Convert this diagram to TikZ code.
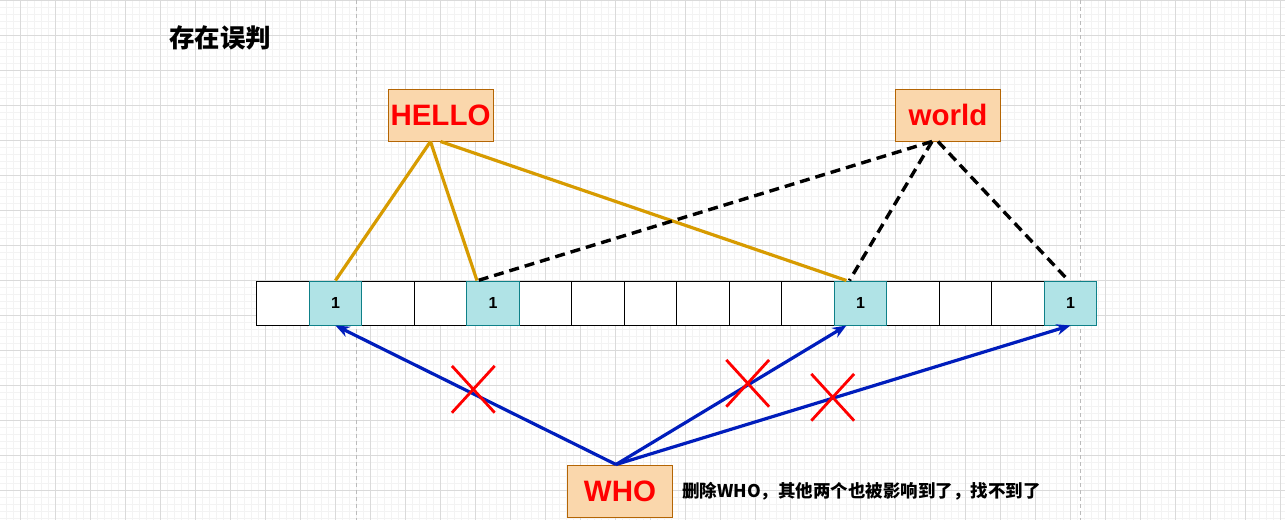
\documentclass[tikz,border=0pt]{standalone}
\usepackage{fontspec}
\setmainfont{Liberation Sans}
\newfontfamily\cjk{Noto Sans CJK SC}
\usetikzlibrary{positioning, arrows.meta, shapes.misc}

\definecolor{boxfill}{HTML}{FAD7AC}
\definecolor{boxline}{HTML}{B46504}
\definecolor{cellfill}{HTML}{B0E3E6}
\definecolor{cellline}{HTML}{0E8088}
\definecolor{hashline}{HTML}{D79B00}
\definecolor{probe}{HTML}{001DBC}
\definecolor{minorgrid}{HTML}{F3F3F3}
\definecolor{majorgrid}{HTML}{DADADA}
\definecolor{guidegray}{HTML}{BBBBBB}

\tikzset{
  minorline/.style={draw=minorgrid, line width=0.8pt},
  majorline/.style={draw=majorgrid, line width=1pt},
  guide/.style={draw=guidegray, line width=1pt, dash pattern=on 4pt off 3pt},
  wordbox/.style={draw=boxline, fill=boxfill, text=red, line width=1pt,
    font=\fontsize{29.5}{34}\selectfont\bfseries,
    minimum width=105pt, minimum height=52pt, inner sep=0pt},
  cell/.style={draw=black, fill=white, line width=1pt,
    minimum width=52.5pt, minimum height=44pt, inner sep=0pt},
  setcell/.style={cell, draw=cellline, fill=cellfill,
    font=\fontsize{16}{18}\selectfont\bfseries},
  helloline/.style={draw=hashline, line width=3.2pt},
  worldline/.style={draw=black, line width=3.4pt, dash pattern=on 10pt off 6pt},
  whoarrow/.style={draw=probe, line width=3.2pt, -{Stealth[length=14pt,width=11pt]}},
  xmark/.style={cross out, draw=red, line width=2.8pt,
    minimum width=40pt, minimum height=44pt, inner sep=0pt}
}

\begin{document}
\begin{tikzpicture}[x=1pt,y=-1pt]
  \useasboundingbox (0,0) rectangle (1285,520);
  \fill[white] (0,0) rectangle (1285,520);

  % grid paper
  \foreach \k in {-2,...,180} \draw[minorline] ({20.7+7*\k},0) -- ({20.7+7*\k},520);
  \foreach \k in {0,...,74} \draw[minorline] (0,{7*\k}) -- (1285,{7*\k});
  \foreach \k in {0,...,36} \draw[majorline] ({20.7+35*\k},0) -- ({20.7+35*\k},520);
  \foreach \k in {0,...,14} \draw[majorline] (0,{35*\k}) -- (1285,{35*\k});
  \draw[guide] (356,0) -- (356,520);
  \draw[guide] (1080,0) -- (1080,520);

  \node[anchor=west, inner sep=0pt, font=\cjk\bfseries\fontsize{25.5}{30}\selectfont] (title) at (169,38) {存在误判};

  % bit array
  \foreach \i in {0,2,3,5,6,7,8,9,10,12,13,14}
    \node[cell] (c\i) at ({282.95+52.5*\i},303) {};
  \foreach \i in {1,4,11,15}
    \node[setcell] (c\i) at ({282.95+52.5*\i},303) {1};

  % words
  \node[wordbox] (hello) at (440.5,115) {HELLO};
  \node[wordbox] (world) at (948,115) {world};
  \node[wordbox] (who) at (620,491) {WHO};
  \node[right=9pt of who, inner sep=0pt, font=\cjk\bfseries\fontsize{17.5}{20}\selectfont] (note) {删除WHO，其他两个也被影响到了，找不到了};

  % hashes of HELLO
  \draw[helloline] ([xshift=-10]hello.south) -- (c1.north);
  \draw[helloline] ([xshift=-10]hello.south) -- ([xshift=-16]c4.north);
  \draw[helloline] (hello.south) -- ([xshift=-14]c11.north);

  % hashes of world
  \draw[worldline] ([xshift=-16]world.south) -- ([xshift=-15]c4.north);
  \draw[worldline] ([xshift=-16]world.south) -- ([xshift=-11]c11.north);
  \draw[worldline] ([xshift=-10]world.south) -- ([xshift=-2]c15.north);

  % hashes of WHO
  \draw[whoarrow] ([xshift=-4]who.north) -- (c1.south);
  \draw[whoarrow] ([xshift=-4]who.north) -- ([xshift=-14]c11.south);
  \draw[whoarrow] ([xshift=-4]who.north) -- (c15.south);

  \node[xmark] (x1) at (473.3,389.3) {};
  \node[xmark] (x2) at (747.7,383.3) {};
  \node[xmark] (x3) at (832.7,397.3) {};
\end{tikzpicture}
\end{document}
